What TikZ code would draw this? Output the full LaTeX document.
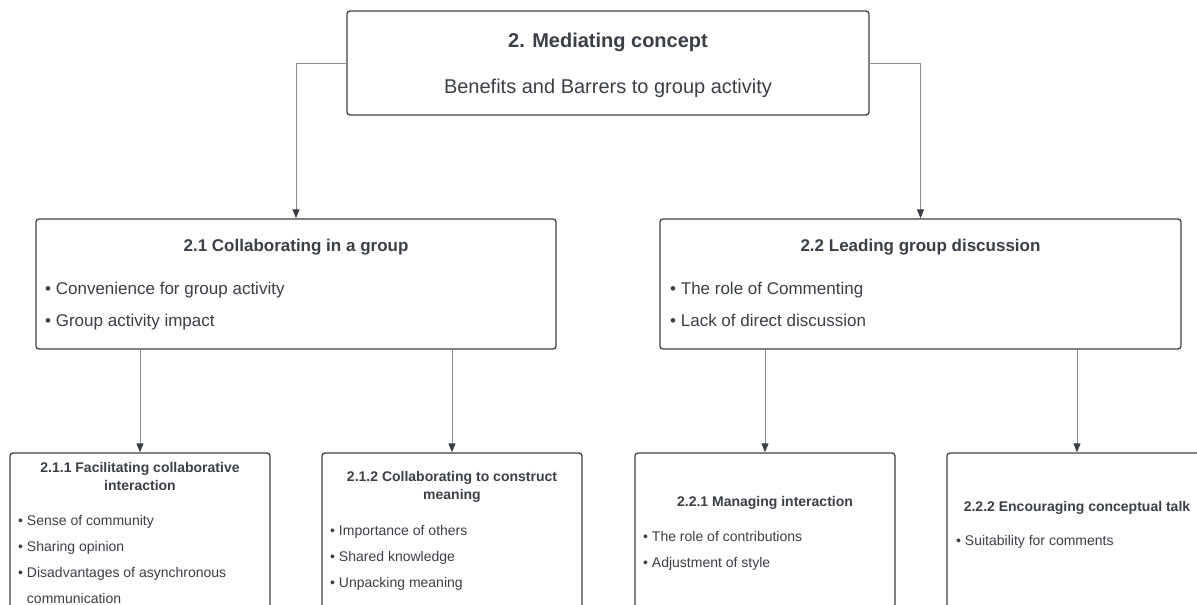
\documentclass[tikz,border=0pt]{standalone}
\usepackage{fontspec}
\setmainfont{Liberation Sans}
\usetikzlibrary{arrows.meta,positioning}
\definecolor{ink}{HTML}{3B3F46}
\definecolor{wire}{HTML}{8C8C8C}
\tikzset{
  box/.style={draw=ink, line width=1.3pt, rounded corners=3pt, fill=white, inner sep=0pt},
  link/.style={draw=wire, line width=0.9pt, -{Triangle[length=9pt,width=7pt,color=ink,fill=ink]}},
  bighead/.style={text=ink, inner sep=0pt, anchor=base, font=\bfseries\fontsize{20}{24}\selectfont},
  bigtext/.style={text=ink, inner sep=0pt, anchor=base, font=\fontsize{20}{24}\selectfont},
  midhead/.style={text=ink, inner sep=0pt, anchor=base, font=\bfseries\fontsize{17}{21}\selectfont},
  miditem/.style={text=ink, inner sep=0pt, anchor=base west, font=\fontsize{17}{21}\selectfont},
  lowhead/.style={text=ink, inner sep=0pt, anchor=north, align=center, font=\bfseries\fontsize{14}{18}\selectfont},
  lowitem/.style={text=ink, inner sep=0pt, anchor=base west, font=\fontsize{14}{18}\selectfont}
}
\begin{document}
\begin{tikzpicture}[x=1pt,y=-1pt]
\useasboundingbox (0,0) rectangle (1197,605);
\clip (0,0) rectangle (1197,605);
% boxes
\node[box, minimum width=522pt, minimum height=104pt] (mc) at (608,63) {};
\node[box, minimum width=520pt, minimum height=130pt] (g21) at (296,284) {};
\node[box, minimum width=521pt, minimum height=130pt] (g22) at (920.5,284) {};
\node[box, minimum width=260pt, minimum height=200pt] (g211) at (140,553) {};
\node[box, minimum width=260pt, minimum height=200pt] (g212) at (452,553) {};
\node[box, minimum width=260pt, minimum height=200pt] (g221) at (765,553) {};
\node[box, minimum width=260pt, minimum height=200pt] (g222) at (1077,553) {};
% connectors
\draw[link] (mc.west) -| (g21.north);
\draw[link] (mc.east) -| (g22.north);
\draw[link] (g21.south -| g211.north) -- (g211.north);
\draw[link] (g21.south -| g212.north) -- (g212.north);
\draw[link] (g22.south -| g221.north) -- (g221.north);
\draw[link] (g22.south -| g222.north) -- (g222.north);
% top
\node[bighead] (mct) at (608,47) {2. Mediating concept};
\node[bigtext] (mcs) at (608,93) {Benefits and Barrers to group activity};
% 2.1
\node[midhead] (g21t) at (296,251) {2.1 Collaborating in a group};
\node[miditem] (g21a) at (45,294) {• Convenience for group activity};
\node[miditem] (g21b) at (45,326) {• Group activity impact};
% 2.2
\node[midhead] (g22t) at (920.5,251) {2.2 Leading group discussion};
\node[miditem] (g22a) at (670,294) {• The role of Commenting};
\node[miditem] (g22b) at (670,326) {• Lack of direct discussion};
% 2.1.1
\node[lowhead] (g211t) at (140,462.5) {2.1.1 Facilitating collaborative\\interaction};
\node[lowitem] (g211a) at (18,525) {• Sense of community};
\node[lowitem] (g211b) at (18,551) {• Sharing opinion};
\node[lowitem] (g211c) at (18,577) {• Disadvantages of asynchronous};
\node[lowitem] (g211d) at (18,603) {\hphantom{• }communication};
% 2.1.2
\node[lowhead] (g212t) at (452,471.5) {2.1.2 Collaborating to construct\\meaning};
\node[lowitem] (g212a) at (330,535) {• Importance of others};
\node[lowitem] (g212b) at (330,561) {• Shared knowledge};
\node[lowitem] (g212c) at (330,587) {• Unpacking meaning};
% 2.2.1
\node[lowhead, anchor=base] (g221t) at (765,506) {2.2.1 Managing interaction};
\node[lowitem] (g221a) at (643,541) {• The role of contributions};
\node[lowitem] (g221b) at (643,567) {• Adjustment of style};
% 2.2.2
\node[lowhead, anchor=base] (g222t) at (1077,511) {2.2.2 Encouraging conceptual talk};
\node[lowitem] (g222a) at (956,545) {• Suitability for comments};
\end{tikzpicture}
\end{document}
